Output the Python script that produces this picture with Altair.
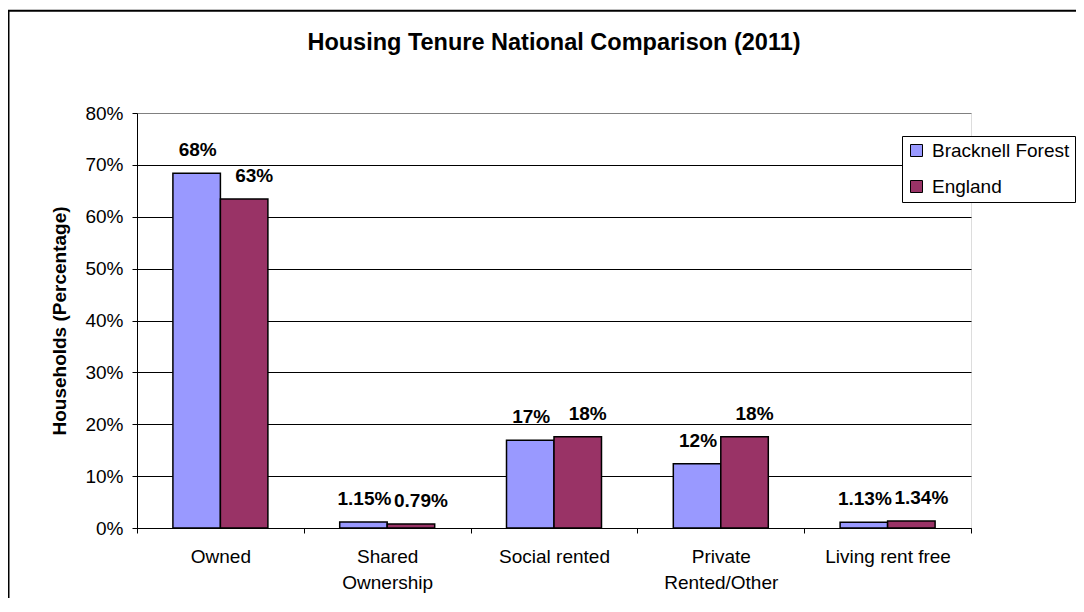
import altair as alt
import pandas as pd

categories = ["Owned", "Shared Ownership", "Social rented", "Private Rented/Other", "Living rent free"]
series = ["Bracknell Forest", "England"]
colors = ["#9999FF", "#993366"]
bracknell = [68.4, 1.15, 16.9, 12.4, 1.13]
england = [63.4, 0.79, 17.6, 17.6, 1.34]
bracknell_labels = ["68%", "1.15%", "17%", "12%", "1.13%"]
england_labels = ["63%", "0.79%", "18%", "18%", "1.34%"]
y_ticks = [0, 10, 20, 30, 40, 50, 60, 70, 80]
label_lines = {
    "Shared Ownership": ["Shared", "Ownership"],
    "Private Rented/Other": ["Private", "Rented/Other"],
}

rows = []
for i, c in enumerate(categories):
    rows.append({"category": c, "series": series[0], "value": bracknell[i], "label": bracknell_labels[i]})
    rows.append({"category": c, "series": series[1], "value": england[i], "label": england_labels[i]})
df = pd.DataFrame(rows)

FONT = "Liberation Sans"

expr = "datum.label"
for k, v in label_lines.items():
    arr = "[" + ",".join("'" + s + "'" for s in v) + "]"
    expr = f"datum.label == '{k}' ? {arr} : (" + expr + ")"

x_enc = alt.X(
    "category:N",
    sort=categories,
    scale=alt.Scale(paddingInner=0, paddingOuter=0),
    axis=alt.Axis(
        title=None, labelAngle=0, tickBand="extent", tickSize=5, tickColor="black",
        domainColor="black", labelFont=FONT, labelFontSize=19, labelColor="black",
        labelBaseline="alphabetic", labelPadding=29, labelLineHeight=26,
        labelExpr=expr,
    ),
)
xo_enc = alt.XOffset("series:N", sort=series, scale=alt.Scale(paddingInner=0, paddingOuter=0.756))
y_enc = alt.Y(
    "value:Q",
    scale=alt.Scale(domain=[0, 80]),
    axis=alt.Axis(
        values=y_ticks, labelExpr="datum.value + '%'",
        title="Households (Percentage)", titleFont=FONT, titleFontSize=19,
        titleFontWeight="bold", titleColor="black",
        titleX=-78, titleY=207.5, titleAngle=270, titleAlign="center", titleBaseline="middle",
        grid=True,
        gridColor={"condition": {"test": "datum.value >= 80", "value": "#808080"}, "value": "#000000"},
        gridWidth=1, domainColor="black", tickColor="black", tickSize=5,
        labelPadding=9, labelFont=FONT, labelFontSize=19, labelColor="black",
    ),
)

bars = alt.Chart(df).mark_bar(stroke="black", strokeWidth=1.5).encode(
    x=x_enc,
    xOffset=xo_enc,
    y=y_enc,
    color=alt.Color(
        "series:N",
        sort=series,
        scale=alt.Scale(domain=series, range=colors),
        legend=alt.Legend(
            title=None, orient="none", legendX=765, legendY=23,
            symbolType="square", symbolSize=144, symbolStrokeColor="black",
            symbolStrokeWidth=1, symbolOpacity=1,
            labelFont=FONT, labelFontSize=19, labelColor="black", labelLimit=300,
            fillColor="white", strokeColor="black", padding=5, labelOffset=6,
            rowPadding=16,
        ),
    ),
)


def value_labels(name, shift):
    return alt.Chart(df).transform_filter(alt.datum.series == name).mark_text(
        dy=-17, dx=shift, font=FONT, fontSize=19, fontWeight="bold", color="black",
        baseline="alphabetic",
    ).encode(
        x=alt.X("category:N", sort=categories),
        xOffset=alt.XOffset("series:N", sort=series),
        y=alt.Y("value:Q"),
        text="label:N",
    )


border = alt.Chart(alt.Data(values=[{}])).mark_rect(
    fill=None, stroke="black", strokeWidth=2, clip=False
).encode(
    x=alt.value(-128.5), x2=alt.value(960), y=alt.value(-102.3), y2=alt.value(600)
)

chart = alt.layer(bars, value_labels(series[0], 1), value_labels(series[1], 10), border).properties(
    width=834,
    height=415,
    padding={"left": 129, "top": 105, "right": 105, "bottom": 70},
    autosize=alt.AutoSizeParams(type="none"),
    title=alt.Title(
        "Housing Tenure National Comparison (2011)", fontSize=23.5, fontWeight="bold",
        font=FONT, color="black", anchor="middle", frame="group", baseline="alphabetic",
        offset=-64,
    ),
).configure_view(fill="#C0C0C0", stroke="#808080", strokeWidth=1).configure(background="white")

chart.save("out.html", embed_options={"renderer": "svg", "actions": False})
